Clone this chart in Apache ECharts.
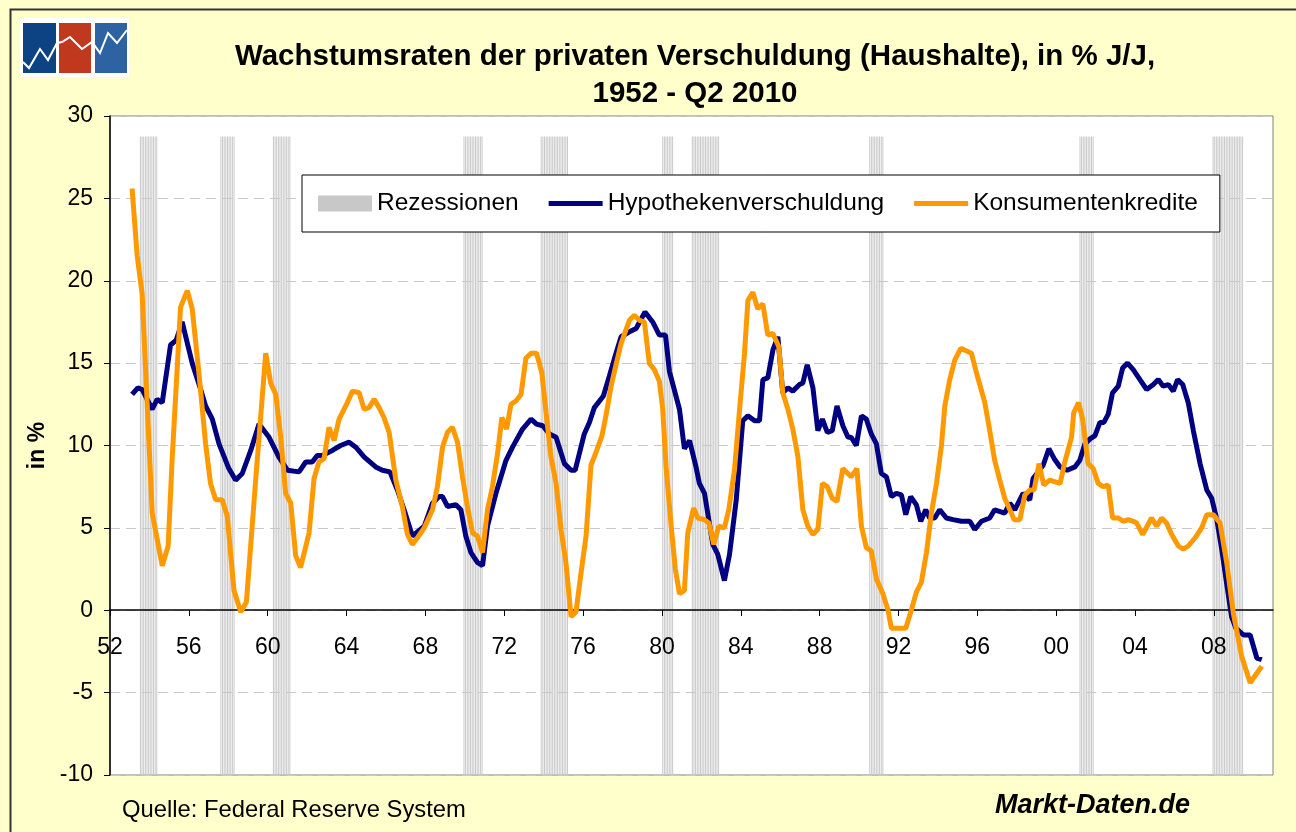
<!DOCTYPE html>
<html>
<head>
<meta charset="utf-8">
<title>Wachstumsraten der privaten Verschuldung</title>
<script src="https://cdn.jsdelivr.net/npm/echarts@6/dist/echarts.min.js"></script>
<style>
  html, body { margin: 0; padding: 0; background: #ffffcc; }
  #chart { width: 1296px; height: 832px; }
</style>
</head>
<body>
<div id="chart"></div>
<script>
// Hypothekenverschuldung, % J/J  [Jahr, Wert]
const hypothek = [
  [1953.12, 13.1], [1953.41, 13.5], [1953.63, 13.4], [1954.14, 12.2], [1954.39, 12.8], [1954.65, 12.6],
  [1955.07, 16.1], [1955.36, 16.4], [1955.66, 17.5], [1956.17, 15.0], [1956.6, 13.4], [1956.85, 12.4],
  [1957.19, 11.6], [1957.53, 10.1], [1958.03, 8.6], [1958.37, 7.9], [1958.71, 8.3], [1959.14, 9.7],
  [1959.56, 11.3], [1960.07, 10.5], [1960.57, 9.3], [1961.0, 8.5], [1961.59, 8.4], [1961.93, 9.0],
  [1962.26, 9.0], [1962.52, 9.4], [1962.77, 9.4], [1963.28, 9.7], [1963.7, 10.0], [1964.13, 10.2],
  [1964.47, 9.9], [1964.9, 9.3], [1965.48, 8.7], [1965.82, 8.5], [1966.2, 8.4], [1966.58, 7.3],
  [1966.92, 6.1], [1967.34, 4.5], [1967.94, 5.1], [1968.36, 6.5], [1968.7, 6.9], [1968.87, 6.9],
  [1969.12, 6.3], [1969.55, 6.4], [1969.8, 6.1], [1970.05, 4.5], [1970.31, 3.5], [1970.64, 2.9],
  [1970.9, 2.7], [1971.15, 5.1], [1971.58, 7.1], [1972.09, 9.1], [1972.42, 9.9], [1972.93, 11.0],
  [1973.36, 11.6], [1973.64, 11.3], [1973.95, 11.2], [1974.29, 10.7], [1974.63, 10.5], [1975.05, 8.9],
  [1975.39, 8.5], [1975.6, 8.5], [1976.06, 10.7], [1976.32, 11.4], [1976.57, 12.3], [1977.03, 13.0],
  [1977.33, 14.2], [1977.67, 15.6], [1977.93, 16.6], [1978.35, 16.9], [1978.69, 17.1], [1979.14, 18.1],
  [1979.53, 17.5], [1979.87, 16.7], [1980.18, 16.7], [1980.38, 14.5], [1980.89, 12.2], [1981.14, 9.8],
  [1981.4, 10.3], [1981.73, 8.7], [1981.9, 7.7], [1982.16, 7.1], [1982.58, 4.0], [1982.83, 3.4],
  [1983.17, 1.8], [1983.43, 3.4], [1983.77, 6.7], [1984.1, 11.5], [1984.36, 11.8], [1984.7, 11.5],
  [1984.95, 11.5], [1985.12, 14.0], [1985.37, 14.1], [1985.63, 15.8], [1985.88, 16.6], [1986.13, 13.2],
  [1986.39, 13.5], [1986.64, 13.3], [1986.98, 13.7], [1987.15, 13.8], [1987.37, 14.9], [1987.66, 13.5],
  [1987.91, 10.9], [1988.14, 11.6], [1988.39, 10.8], [1988.64, 10.9], [1988.88, 12.4], [1989.18, 11.2],
  [1989.44, 10.5], [1989.6, 10.5], [1989.86, 10.0], [1990.12, 11.8], [1990.37, 11.6], [1990.62, 10.7],
  [1990.88, 10.1], [1991.13, 8.3], [1991.39, 8.1], [1991.64, 6.9], [1991.89, 7.1], [1992.15, 7.0],
  [1992.37, 5.8], [1992.62, 6.9], [1992.91, 6.4], [1993.13, 5.4], [1993.38, 6.1], [1993.58, 5.6],
  [1993.84, 5.6], [1994.09, 6.1], [1994.43, 5.6], [1994.77, 5.5], [1995.19, 5.4], [1995.62, 5.4],
  [1995.87, 4.9], [1996.21, 5.4], [1996.63, 5.6], [1996.88, 6.1], [1997.39, 5.9], [1997.65, 6.5],
  [1997.9, 6.1], [1998.32, 7.1], [1998.66, 6.7], [1998.83, 8.0], [1999.34, 8.8], [1999.63, 9.8],
  [1999.9, 9.2], [2000.2, 8.7], [2000.56, 8.5], [2000.95, 8.7], [2001.2, 9.1], [2001.46, 10.1],
  [2001.72, 10.4], [2001.97, 10.6], [2002.22, 11.4], [2002.42, 11.4], [2002.64, 11.9], [2002.86, 13.2],
  [2003.15, 13.6], [2003.37, 14.7], [2003.62, 15.0], [2003.91, 14.6], [2004.25, 14.0], [2004.59, 13.4],
  [2004.93, 13.7], [2005.18, 14.0], [2005.43, 13.6], [2005.69, 13.7], [2005.94, 13.3], [2006.16, 14.0],
  [2006.42, 13.7], [2006.7, 12.6], [2006.96, 10.9], [2007.3, 8.9], [2007.64, 7.3], [2007.89, 6.8],
  [2008.15, 5.5], [2008.4, 3.7], [2008.65, 1.6], [2008.9, -0.4], [2009.12, -1.1], [2009.5, -1.5],
  [2009.84, -1.5], [2010.18, -2.9], [2010.43, -3.0]
];

// Konsumentenkredite, % J/J  [Jahr, Wert]
const konsum = [
  [1953.12, 25.6], [1953.38, 21.5], [1953.63, 19.2], [1954.14, 5.9], [1954.65, 2.7], [1954.95, 3.9],
  [1955.15, 9.1], [1955.58, 18.4], [1955.92, 19.4], [1956.17, 18.3], [1956.51, 14.4], [1956.85, 10.1],
  [1957.1, 7.7], [1957.36, 6.7], [1957.69, 6.7], [1957.95, 5.7], [1958.29, 1.2], [1958.63, -0.1],
  [1958.92, 0.5], [1959.39, 7.9], [1959.9, 15.6], [1960.15, 13.8], [1960.41, 13.1], [1960.66, 10.5],
  [1960.91, 7.1], [1961.17, 6.5], [1961.42, 3.3], [1961.67, 2.6], [1962.1, 4.7], [1962.35, 8.0],
  [1962.6, 9.0], [1962.86, 9.2], [1963.11, 11.1], [1963.37, 10.3], [1963.62, 11.6], [1963.96, 12.4],
  [1964.3, 13.3], [1964.64, 13.2], [1964.89, 12.2], [1965.14, 12.3], [1965.4, 12.8], [1965.65, 12.3],
  [1965.9, 11.7], [1966.16, 10.8], [1966.5, 7.9], [1966.83, 6.3], [1967.09, 4.6], [1967.34, 4.0],
  [1967.6, 4.4], [1967.94, 5.0], [1968.36, 6.1], [1968.61, 7.5], [1968.87, 9.9], [1969.12, 10.8],
  [1969.37, 11.1], [1969.63, 10.2], [1969.88, 8.1], [1970.13, 6.3], [1970.39, 4.7], [1970.64, 4.5],
  [1970.9, 3.5], [1971.15, 6.1], [1971.4, 7.5], [1971.66, 9.5], [1971.88, 11.7], [1972.12, 11.0],
  [1972.34, 12.5], [1972.59, 12.7], [1972.85, 13.1], [1973.1, 15.3], [1973.36, 15.6], [1973.64, 15.6],
  [1973.91, 14.4], [1974.12, 12.0], [1974.37, 9.3], [1974.63, 7.7], [1974.88, 4.9], [1975.13, 2.9],
  [1975.39, -0.4], [1975.64, -0.1], [1975.9, 2.3], [1976.15, 4.5], [1976.4, 8.8], [1976.66, 9.6],
  [1976.96, 10.6], [1977.16, 11.8], [1977.42, 13.6], [1977.67, 14.9], [1977.93, 16.2], [1978.35, 17.6],
  [1978.6, 17.9], [1978.86, 17.6], [1979.11, 17.5], [1979.36, 15.0], [1979.62, 14.6], [1979.87, 13.9],
  [1980.04, 12.2], [1980.21, 8.7], [1980.47, 5.1], [1980.68, 2.5], [1980.89, 1.0], [1981.14, 1.2],
  [1981.31, 4.7], [1981.61, 6.2], [1981.82, 5.6], [1982.16, 5.5], [1982.38, 5.3], [1982.63, 4.0],
  [1982.88, 5.1], [1983.17, 5.0], [1983.39, 6.1], [1983.68, 8.5], [1983.94, 12.2], [1984.19, 15.6],
  [1984.36, 18.8], [1984.61, 19.3], [1984.86, 18.3], [1985.12, 18.6], [1985.37, 16.7], [1985.63, 16.8],
  [1985.93, 16.0], [1986.13, 13.2], [1986.39, 12.2], [1986.64, 11.0], [1986.9, 9.3], [1987.15, 6.1],
  [1987.4, 5.1], [1987.66, 4.6], [1987.91, 4.9], [1988.14, 7.7], [1988.39, 7.5], [1988.64, 6.8],
  [1988.88, 6.6], [1989.18, 8.6], [1989.6, 8.1], [1989.89, 8.6], [1990.12, 5.1], [1990.37, 3.8],
  [1990.62, 3.6], [1990.88, 1.9], [1991.21, 1.0], [1991.47, 0.0], [1991.64, -1.1], [1992.06, -1.1],
  [1992.37, -1.1], [1992.65, 0.0], [1992.91, 1.1], [1993.16, 1.7], [1993.42, 3.5], [1993.67, 5.9],
  [1993.93, 7.7], [1994.18, 10.0], [1994.35, 12.4], [1994.6, 14.0], [1994.86, 15.2], [1995.16, 15.9],
  [1995.7, 15.6], [1995.96, 14.4], [1996.38, 12.6], [1996.63, 10.9], [1996.88, 9.1], [1997.14, 7.9],
  [1997.39, 6.8], [1997.65, 6.1], [1997.87, 5.5], [1998.16, 5.5], [1998.41, 7.0], [1998.66, 7.3],
  [1998.88, 7.3], [1999.13, 8.9], [1999.37, 7.6], [1999.67, 7.9], [2000.2, 7.7], [2000.46, 9.1],
  [2000.78, 10.5], [2000.89, 12.0], [2001.14, 12.6], [2001.34, 11.6], [2001.62, 8.9], [2001.88, 8.6],
  [2002.13, 7.7], [2002.38, 7.5], [2002.64, 7.6], [2002.86, 5.6], [2003.15, 5.6], [2003.4, 5.4],
  [2003.66, 5.5], [2003.91, 5.4], [2004.08, 5.3], [2004.39, 4.6], [2004.84, 5.6], [2005.1, 5.1],
  [2005.35, 5.6], [2005.6, 5.3], [2005.86, 4.6], [2006.2, 3.9], [2006.45, 3.7], [2006.7, 3.9],
  [2007.05, 4.4], [2007.38, 5.0], [2007.64, 5.8], [2007.97, 5.8], [2008.31, 5.3], [2008.65, 2.9],
  [2008.99, -0.2], [2009.41, -2.8], [2009.84, -4.4], [2010.43, -3.4]
];

// US-Rezessionen (NBER), erster und letzter Monat
const rezessionStart = ['1953-07', '1957-08', '1960-04', '1969-12', '1973-11', '1980-01', '1981-07', '1990-07', '2001-03', '2007-12'];
const rezessionEnde  = ['1954-05', '1958-04', '1961-02', '1970-11', '1975-03', '1980-07', '1982-11', '1991-03', '2001-11', '2009-06'];

// Achsenbeschriftung
const xTicks = [1952, 1956, 1960, 1964, 1968, 1972, 1976, 1980, 1984, 1988, 1992, 1996, 2000, 2004, 2008];

// ein Balken pro Rezessionsmonat
const rezessionMonate = [];
rezessionStart.forEach((s, i) => {
  const [y0, m0] = s.split('-').map(Number);
  const [y1, m1] = rezessionEnde[i].split('-').map(Number);
  for (let k = y0 * 12 + m0 - 1; k <= y1 * 12 + m1 - 1; k++) {
    rezessionMonate.push([k / 12 + 1 / 24, 0.969]);
  }
});

const FONT = 'Liberation Sans, Arial, sans-serif';
const LINE_ICON = 'path://M0,0H54V5H0Z';
const chart = echarts.init(document.getElementById('chart'));

const option = {
  backgroundColor: '#ffffcc',
  animation: false,
  title: {
    text: 'Wachstumsraten der privaten Verschuldung (Haushalte), in % J/J,\n1952 - Q2 2010',
    left: 690,
    top: 33,
    textAlign: 'center',
    textStyle: { fontFamily: FONT, fontSize: 29.5, fontWeight: 'bold', color: '#000', lineHeight: 37 }
  },
  legend: {
    left: 302,
    top: 175,
    backgroundColor: '#fff',
    borderColor: '#000',
    borderWidth: 1,
    padding: [16, 22, 16, 16],
    itemGap: 30,
    itemWidth: 54,
    itemHeight: 16,
    textStyle: { fontFamily: FONT, fontSize: 24.5, color: '#000' },
    data: [
      { name: 'Rezessionen', icon: 'rect' },
      { name: 'Hypothekenverschuldung', icon: LINE_ICON },
      { name: 'Konsumentenkredite', icon: LINE_ICON }
    ]
  },
  grid: {
    left: 110, right: 23, top: 116, bottom: 57,
    show: true, backgroundColor: '#fff', borderColor: '#808080', borderWidth: 1
  },
  xAxis: {
    type: 'value',
    min: 1952,
    max: 2011,
    position: 'bottom',
    // Achse liegt auf der Nulllinie (Abstand vom unteren Rand bei -10 … 30)
    offset: -165,
    z: 3,
    axisLine: { onZero: false, lineStyle: { color: '#000', width: 1.5 } },
    axisTick: { customValues: xTicks, length: 6, lineStyle: { color: '#000' } },
    axisLabel: {
      customValues: xTicks,
      margin: 26,
      fontFamily: FONT, fontSize: 23, color: '#000',
      formatter: v => String(v).slice(2)
    },
    splitLine: { show: false }
  },
  yAxis: [{
    type: 'value',
    min: -10,
    max: 30,
    interval: 5,
    name: 'in %',
    nameLocation: 'middle',
    nameGap: 60,
    nameTextStyle: { fontFamily: FONT, fontSize: 23, fontWeight: 'bold', color: '#000' },
    axisLine: { show: true, lineStyle: { color: '#000', width: 1.5 } },
    axisTick: { show: true, length: 6, lineStyle: { color: '#000' } },
    axisLabel: { margin: 17, fontFamily: FONT, fontSize: 23, color: '#000' },
    splitLine: { lineStyle: { color: '#c8c8c8', type: [10, 6], width: 1 } }
  }, {
    type: 'value', min: 0, max: 1, show: false
  }],
  series: [
    {
      name: 'Rezessionen',
      type: 'bar',
      yAxisIndex: 1,
      barWidth: 0.9,
      silent: true,
      itemStyle: { color: '#c8c8c8' },
      data: rezessionMonate
    },
    {
      name: 'Hypothekenverschuldung',
      type: 'line',
      symbol: 'none',
      z: 4,
      lineStyle: { color: '#000080', width: 5 },
      itemStyle: { color: '#000080' },
      data: hypothek
    },
    {
      name: 'Konsumentenkredite',
      type: 'line',
      symbol: 'none',
      z: 5,
      lineStyle: { color: '#ff9900', width: 5 },
      itemStyle: { color: '#ff9900' },
      data: konsum
    }
  ],
  graphic: [
    // Rahmen
    { type: 'rect', left: 8, top: 7, z: 100, silent: true,
      shape: { width: 1300, height: 840 },
      style: { fill: 'none', stroke: '#333', lineWidth: 2 } },
    // Logo
    { type: 'group', left: 20, top: 18, children: [
      { type: 'rect', shape: { x: 0, y: 0, width: 109, height: 59 }, style: { fill: '#fff' } },
      { type: 'rect', shape: { x: 3, y: 5, width: 33, height: 50 }, style: { fill: '#0d4383' } },
      { type: 'rect', shape: { x: 39, y: 5, width: 32, height: 50 }, style: { fill: '#c0391f' } },
      { type: 'rect', shape: { x: 75, y: 5, width: 32, height: 50 }, style: { fill: '#2e63a3' } },
      { type: 'polyline',
        shape: { points: [[3, 44], [9, 50], [20, 31], [28, 42], [37, 25], [42, 24], [50, 19], [62, 31], [72, 24], [80, 35], [88, 15], [97, 25], [107, 12]] },
        style: { stroke: '#fff', lineWidth: 2, fill: 'none' } }
    ] },
    // Fußzeile
    { type: 'text', left: 122, top: 798,
      style: { text: 'Quelle: Federal Reserve System', font: '23.8px ' + FONT, fill: '#000' } },
    { type: 'text', left: 995, top: 792,
      style: { text: 'Markt-Daten.de', font: 'italic bold 27px ' + FONT, fill: '#000' } }
  ]
};

chart.setOption(option);
</script>
</body>
</html>
